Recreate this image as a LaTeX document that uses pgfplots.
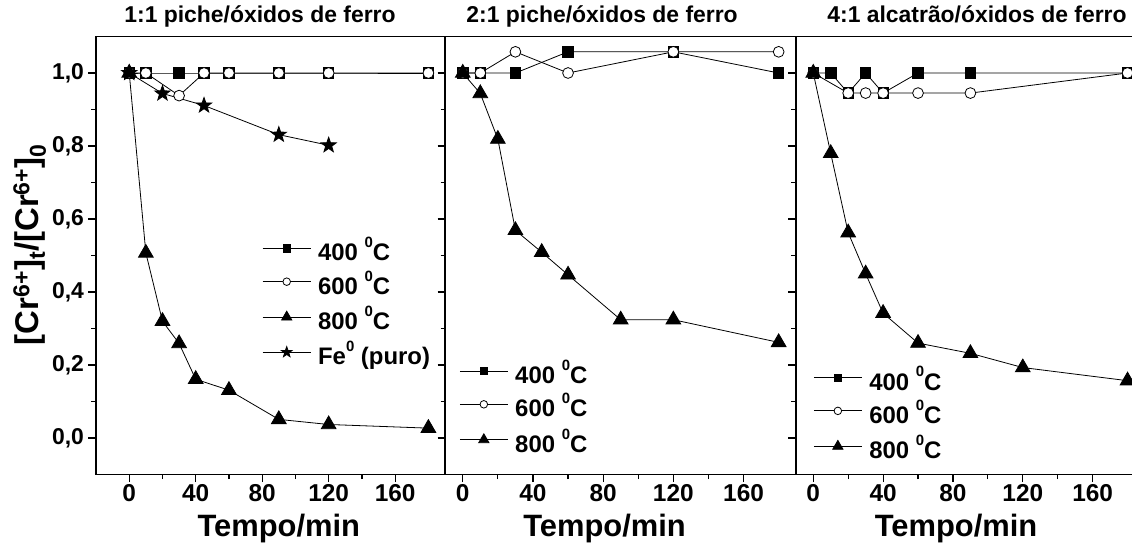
\documentclass[border=0pt]{standalone}
\usepackage{pgfplots}
\pgfplotsset{compat=1.18}
\usepackage{fontspec}
\setmainfont{Liberation Sans}
\usetikzlibrary{plotmarks}

\pgfdeclareplotmark{fstar}{%
\pgfpathmoveto{\pgfpointpolar{90}{\pgfplotmarksize}}%
\pgfpathlineto{\pgfpointpolar{126}{0.4\pgfplotmarksize}}%
\pgfpathlineto{\pgfpointpolar{162}{\pgfplotmarksize}}%
\pgfpathlineto{\pgfpointpolar{198}{0.4\pgfplotmarksize}}%
\pgfpathlineto{\pgfpointpolar{234}{\pgfplotmarksize}}%
\pgfpathlineto{\pgfpointpolar{270}{0.4\pgfplotmarksize}}%
\pgfpathlineto{\pgfpointpolar{306}{\pgfplotmarksize}}%
\pgfpathlineto{\pgfpointpolar{342}{0.4\pgfplotmarksize}}%
\pgfpathlineto{\pgfpointpolar{18}{\pgfplotmarksize}}%
\pgfpathlineto{\pgfpointpolar{54}{0.4\pgfplotmarksize}}%
\pgfpathclose
\pgfusepathqfillstroke}

\newcommand{\dg}{\raisebox{0.55em}{\fontsize{15}{15}\selectfont 0}}

\pgfplotsset{
  panel/.style={
    scale only axis, height=438bp,
    ymin=-0.1, ymax=1.1,
    ytick={0,0.2,0.4,0.6,0.8,1.0},
    minor y tick num=1,
    minor x tick num=1,
    xtick={0,40,80,120,160},
    tick align=outside,
    xtick pos=bottom, ytick pos=left,
    major tick length=7.5bp, minor tick length=4.5bp,
    axis line style={line width=1.4bp},
    every tick/.style={line width=1.2bp, black},
    /pgf/number format/assume math mode=true,
    /pgf/number format/.cd, use comma, fixed, fixed zerofill, precision=1,
    /pgfplots/.cd,
    xticklabel style={/pgf/number format/precision=0, /pgf/number format/fixed zerofill=false},
    yticklabel style={font=\fontsize{23}{23}\selectfont\bfseries, xshift=-1bp},
    xticklabel style={font=\fontsize{24.5}{24.5}\selectfont\bfseries, yshift=1bp},
    xlabel={Tempo/min},
    xlabel style={font=\fontsize{31}{31}\selectfont\bfseries, anchor=center},
    title style={font=\fontsize{23}{23}\selectfont\bfseries, anchor=base},
    clip=false,
    legend cell align=left,
    legend style={draw=none, fill=none, inner sep=0pt, column sep=7bp, row sep=12bp,
      font=\fontsize{24}{24}\selectfont\bfseries,
      nodes={inner sep=0pt, text height=16bp, text depth=5bp}},
    legend image code/.code={\draw[mark repeat=2, mark phase=2, every mark/.append style={scale=0.7}]
      plot coordinates {(0bp,7bp) (24bp,7bp) (48bp,7bp)};},
  },
  s400/.style={black, line width=0.8bp, mark=square*, mark size=5.2bp, mark options={solid, fill=black}},
  s600/.style={black, line width=0.8bp, mark=*, mark size=5.4bp, mark options={solid, fill=white}},
  s800/.style={black, line width=0.8bp, mark=triangle*, mark size=8.5bp, mark options={solid, fill=black}},
  sfe/.style={black, line width=0.8bp, mark=fstar, mark size=8bp, mark options={solid, fill=black}},
}

\begin{document}
\begin{tikzpicture}
\useasboundingbox (0,0) rectangle (1132bp,550bp);

% Panel 1
\begin{axis}[panel, at={(96bp,75.5bp)}, anchor=south west, width=349bp,
  xmin=-20, xmax=190,
  title={1:1 piche/óxidos de ferro},
  title style={at={(axis description cs:0.47,1)}, yshift=8.5bp},
  ylabel={[Cr\textsuperscript{6+}]\textsubscript{t}/[Cr\textsuperscript{6+}]\textsubscript{0}},
  ylabel style={font=\fontsize{33}{33}\selectfont\bfseries, at={(axis description cs:-0.19,0.525)}, anchor=center},
  xlabel style={at={(axis description cs:0.524,-0.124)}},
  legend style={at={(axis description cs:0.476,0.525)}, anchor=north west},
]
\addplot[s400] coordinates {(0,1) (10,1) (30,1) (45,1) (60,1) (90,1) (120,1) (180,1)};
\addlegendentry{400 \dg C}
\addplot[s600] coordinates {(0,1) (10,1) (30,0.938) (45,1) (60,1) (90,1) (120,1) (180,1)};
\addlegendentry{600 \dg C}
\addplot[s800] coordinates {(0,1) (10,0.507) (20,0.32) (30,0.259) (40,0.161) (60,0.131) (90,0.051) (120,0.037) (180,0.027)};
\addlegendentry{800 \dg C}
\addplot[sfe] coordinates {(0,1) (20,0.944) (45,0.911) (90,0.831) (120,0.802)};
\addlegendentry{Fe\dg\ (puro)}
\end{axis}

% Panel 2
\begin{axis}[panel, at={(445.2bp,75.5bp)}, anchor=south west, width=351bp,
  xmin=-10, xmax=190,
  yticklabels={},
  title={2:1 piche/óxidos de ferro},
  title style={at={(axis description cs:0.447,1)}, yshift=8.5bp},
  xlabel style={at={(axis description cs:0.454,-0.124)}},
  legend style={at={(axis description cs:0.04,0.245)}, anchor=north west},
]
\addplot[s400] coordinates {(0,1) (10,1) (30,1) (60,1.058) (120,1.058) (180,1)};
\addlegendentry{400 \dg C}
\addplot[s600] coordinates {(0,1) (10,1) (30,1.058) (60,1) (120,1.058) (180,1.058)};
\addlegendentry{600 \dg C}
\addplot[s800] coordinates {(0,1) (10,0.944) (20,0.819) (30,0.569) (45,0.509) (60,0.447) (90,0.324) (120,0.324) (180,0.262)};
\addlegendentry{800 \dg C}
\end{axis}

% Panel 3
\begin{axis}[panel, at={(795.8bp,75.5bp)}, anchor=south west, width=349.2bp,
  xmin=-10, xmax=190,
  yticklabels={},
  title={4:1 alcatrão/óxidos de ferro},
  title style={at={(axis description cs:0.519,1)}, yshift=8.5bp},
  xlabel style={at={(axis description cs:0.459,-0.124)}},
  legend style={at={(axis description cs:0.05,0.23)}, anchor=north west},
]
\addplot[s400] coordinates {(0,1) (10,1) (20,0.945) (30,1) (40,0.945) (60,1) (90,1) (180,1)};
\addlegendentry{400 \dg C}
\addplot[s600] coordinates {(0,1) (20,0.945) (30,0.945) (40,0.945) (60,0.945) (90,0.945) (180,1)};
\addlegendentry{600 \dg C}
\addplot[s800] coordinates {(0,1) (10,0.78) (20,0.5625) (30,0.45) (40,0.342) (60,0.26) (90,0.232) (120,0.193) (180,0.157)};
\addlegendentry{800 \dg C}
\end{axis}
\end{tikzpicture}
\end{document}
